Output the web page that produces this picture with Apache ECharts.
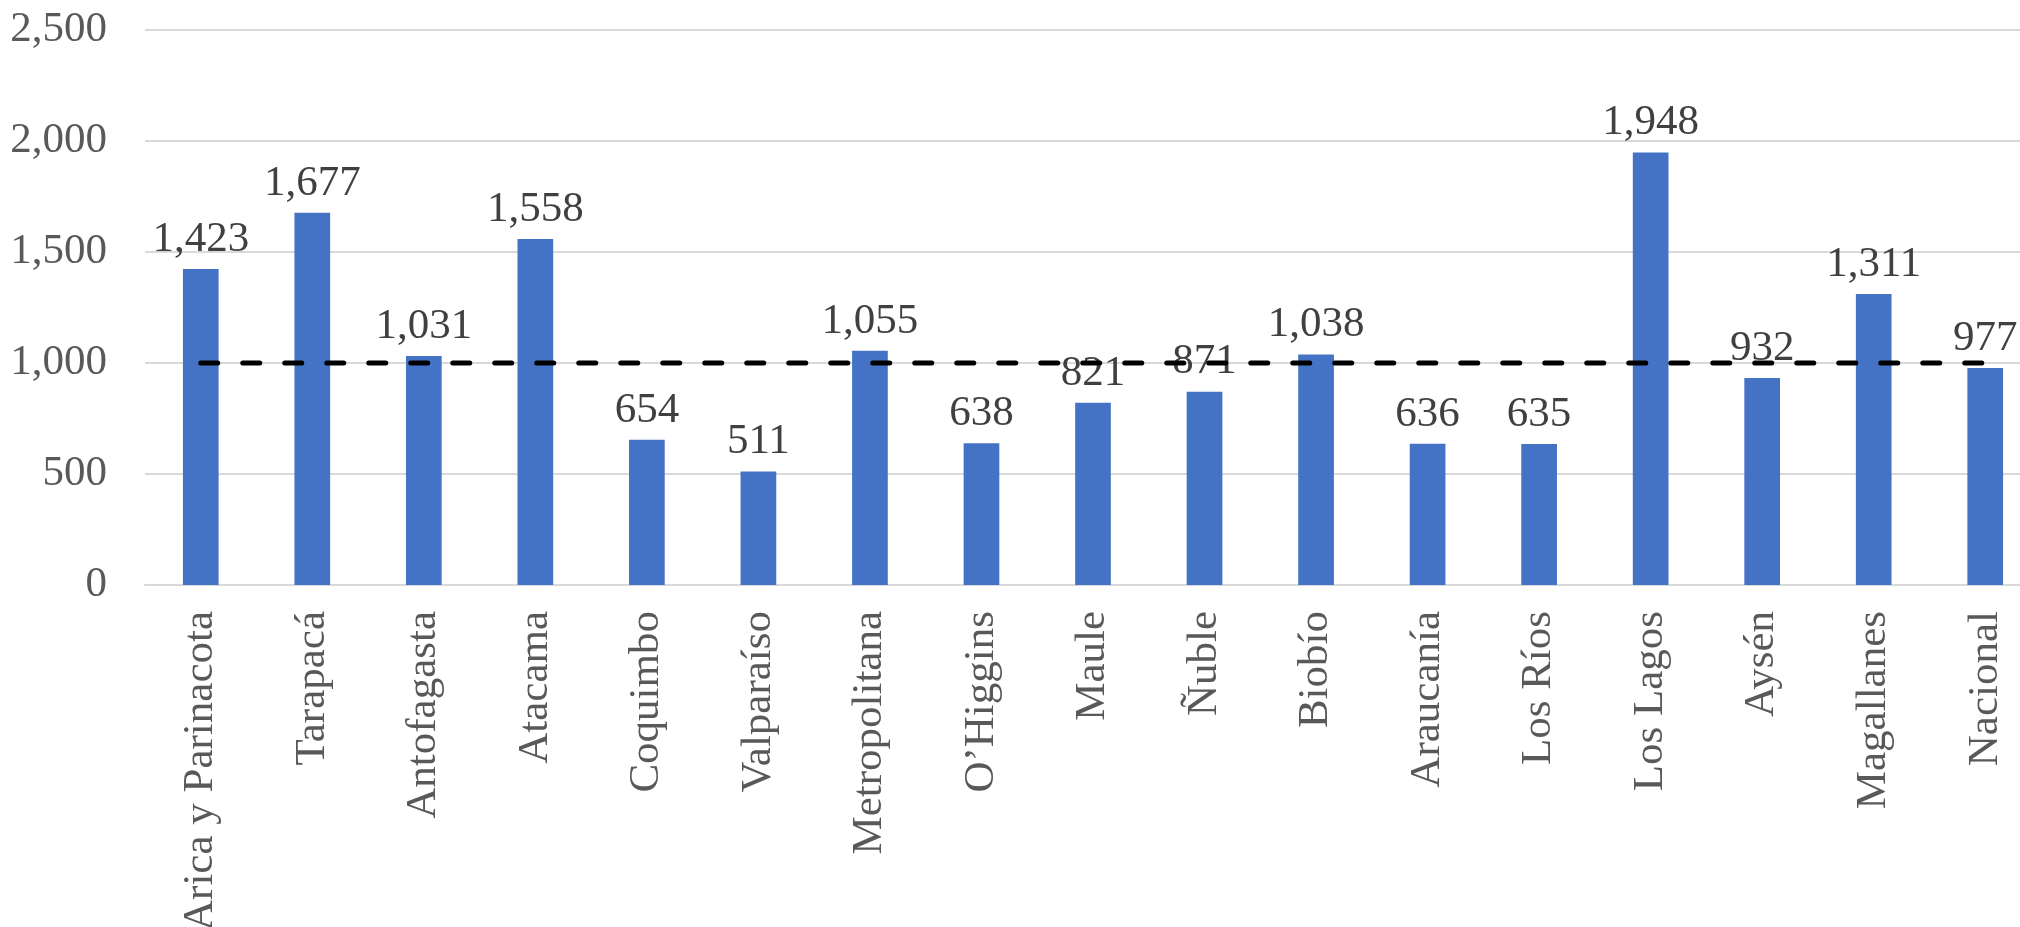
<!DOCTYPE html>
<html lang="es">
<head>
    <meta charset="UTF-8">
    <title>Regiones</title>
    <script src="https://cdn.jsdelivr.net/npm/echarts@6.0.0/dist/echarts.min.js"></script>
    <style>
        html, body { margin: 0; padding: 0; background: #fff; }
        #viz { width: 2020px; height: 927px; }
    </style>
</head>
<body>
    <div id="viz"></div>
    <script>
        const regions = ['Arica y Parinacota', 'Tarapacá', 'Antofagasta', 'Atacama', 'Coquimbo', 'Valparaíso',
            'Metropolitana', 'O’Higgins', 'Maule', 'Ñuble', 'Biobío', 'Araucanía', 'Los Ríos', 'Los Lagos',
            'Aysén', 'Magallanes', 'Nacional'];
        const values = [1423, 1677, 1031, 1558, 654, 511, 1055, 638, 821, 871, 1038, 636, 635, 1948, 932, 1311, 977];
        const reference = [1000, 1000, 1000, 1000, 1000, 1000, 1000, 1000, 1000, 1000, 1000, 1000, 1000, 1000, 1000, 1000, 1000];
        const yTicks = [0, 500, 1000, 1500, 2000, 2500];

        const font = '"Liberation Serif", "Times New Roman", serif';
        const fmt = v => v.toLocaleString('en-US');

        const chart = echarts.init(document.getElementById('viz'), null, { renderer: 'canvas' });

        const option = {
            animation: false,
            grid: { left: 145, top: 30, width: 1896, height: 555, containLabel: false, outerBoundsMode: 'none' },
            xAxis: {
                type: 'category',
                data: regions,
                axisLine: { lineStyle: { color: '#d9d9d9', width: 2 } },
                axisTick: { show: false },
                axisLabel: {
                    interval: 0,
                    rotate: 90,
                    margin: 26,
                    fontFamily: font,
                    fontSize: 43,
                    color: '#595959'
                }
            },
            yAxis: {
                type: 'value',
                min: yTicks[0],
                max: yTicks[yTicks.length - 1],
                interval: 500,
                axisLine: { show: false },
                axisTick: { show: false },
                splitLine: { lineStyle: { color: '#d9d9d9', width: 2 } },
                axisLabel: {
                    margin: 38,
                    fontFamily: font,
                    fontSize: 43,
                    color: '#595959',
                    formatter: v => fmt(v)
                }
            },
            series: [
                {
                    type: 'bar',
                    data: values,
                    barWidth: '32%',
                    itemStyle: { color: '#4472C4' },
                    label: {
                        show: true,
                        position: 'top',
                        distance: 8,
                        fontFamily: font,
                        fontSize: 43,
                        color: '#404040',
                        formatter: p => fmt(p.value)
                    }
                },
                {
                    type: 'line',
                    data: reference,
                    symbol: 'none',
                    z: 5,
                    lineStyle: { color: '#000', width: 5, type: [17, 25], cap: 'round' }
                }
            ]
        };

        chart.setOption(option);
        window.onresize = () => chart.resize();
    </script>
</body>
</html>
